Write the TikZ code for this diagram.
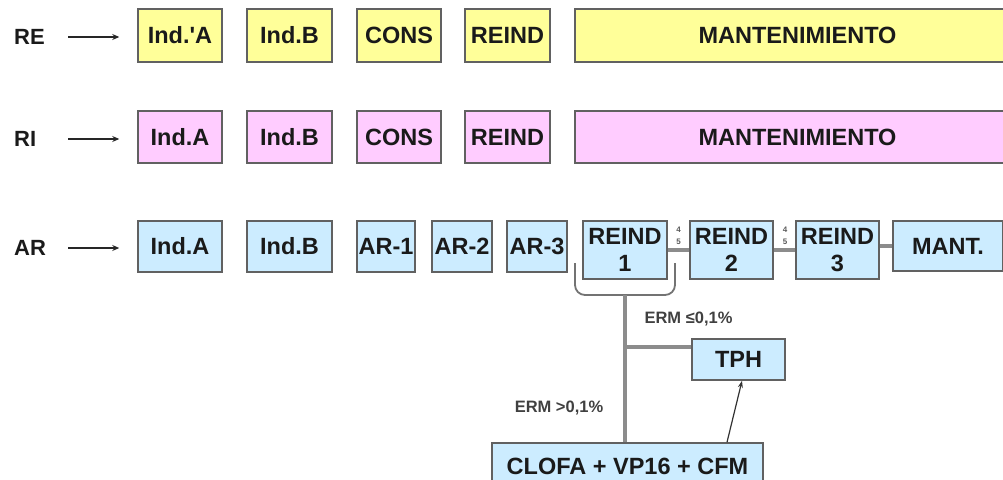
\documentclass[tikz,border=0pt]{standalone}
\usepackage{fontspec}
\setmainfont{Liberation Sans}
\newfontfamily\apfont{Liberation Sans}
\usetikzlibrary{arrows.meta}
\definecolor{yfill}{HTML}{FFFF99}
\definecolor{pfill}{HTML}{FFCCFF}
\definecolor{bfill}{HTML}{CCECFF}
\definecolor{txt}{HTML}{1A1A1A}
\definecolor{lgray}{HTML}{8C8C8C}
\tikzset{
  box/.style={draw=black!62, line width=1.5pt, inner sep=0pt, align=center,
    font=\fontsize{23.5}{27}\selectfont\bfseries, text=txt},
  ybox/.style={box, fill=yfill},
  pbox/.style={box, fill=pfill},
  bbox/.style={box, fill=bfill},
  rowlbl/.style={anchor=west, inner sep=0pt, font=\fontsize{22}{24}\selectfont\bfseries, text=txt},
  inarrow/.style={-{Stealth[length=7pt,width=6pt]}, line width=1.2pt, black!85, shorten >=18pt},
  gline/.style={lgray, line width=3.2pt},
  bline/.style={black!55, line width=1.8pt},
  erm/.style={inner sep=0pt, font=\fontsize{16.5}{18}\selectfont\bfseries, text=black!75},
  tiny/.style={inner sep=0pt, font=\fontsize{8}{9}\selectfont\bfseries, text=black!65},
}
\begin{document}
\begin{tikzpicture}[x=1pt,y=-1pt]
\useasboundingbox (0,0) rectangle (1003,479);
\clip (0,0) rectangle (1003,479);
% row labels
\node[rowlbl] (re) at (14,37) {RE};
\node[rowlbl] (ri) at (14,139) {RI};
\node[rowlbl] (ar) at (14,248) {AR};
\coordinate (reS) at (68,37);
\coordinate (riS) at (68,139);
\coordinate (arS) at (68,248);
% RE row
\node[ybox, minimum width=84pt, minimum height=53pt] (reA) at (180,35.5) {Ind.{\apfont\bfseries '}A};
\node[ybox, minimum width=85pt, minimum height=53pt] (reB) at (289.5,35.5) {Ind.B};
\node[ybox, minimum width=84pt, minimum height=53pt] (reC) at (399,35.5) {CONS};
\node[ybox, minimum width=85pt, minimum height=53pt] (reR) at (507.5,35.5) {REIND};
\node[ybox, minimum width=445pt, minimum height=53pt] (reM) at (797.5,35.5) {MANTENIMIENTO};
% RI row
\node[pbox, minimum width=84pt, minimum height=52pt] (riA) at (180,137) {Ind.A};
\node[pbox, minimum width=85pt, minimum height=52pt] (riB) at (289.5,137) {Ind.B};
\node[pbox, minimum width=84pt, minimum height=52pt] (riC) at (399,137) {CONS};
\node[pbox, minimum width=85pt, minimum height=52pt] (riR) at (507.5,137) {REIND};
\node[pbox, minimum width=445pt, minimum height=52pt] (riM) at (797.5,137) {MANTENIMIENTO};
% AR row
\node[bbox, minimum width=84pt, minimum height=51pt] (arA) at (180,246.5) {Ind.A};
\node[bbox, minimum width=85pt, minimum height=51pt] (arB) at (289.5,246.5) {Ind.B};
\node[bbox, minimum width=58pt, minimum height=51pt] (ar1) at (386,246.5) {AR-1};
\node[bbox, minimum width=60pt, minimum height=51pt] (ar2) at (462,246.5) {AR-2};
\node[bbox, minimum width=60pt, minimum height=51pt] (ar3) at (537,246.5) {AR-3};
\node[bbox, minimum width=84pt, minimum height=58pt] (r1) at (625,250) {REIND\\1};
\node[bbox, minimum width=83pt, minimum height=58pt] (r2) at (731.5,250) {REIND\\2};
\node[bbox, minimum width=83pt, minimum height=58pt] (r3) at (837.5,250) {REIND\\3};
\node[bbox, minimum width=110pt, minimum height=50pt] (mant) at (948,246) {MANT.};
\node[bbox, minimum width=93pt, minimum height=41pt] (tph) at (738.5,359.5) {TPH};
\node[bbox, minimum width=271pt, minimum height=47pt] (clofa) at (627.5,466.5) {CLOFA + VP16 + CFM};
% small 4/5 labels
\node[tiny] (f1a) at (678.5,230) {4};
\node[tiny] (f1b) at (678.5,242) {5};
\node[tiny] (f2a) at (785,230) {4};
\node[tiny] (f2b) at (785,242) {5};
% input arrows
\draw[inarrow] (reS) -- (reS -| reA.west);
\draw[inarrow] (riS) -- (riS -| riA.west);
\draw[inarrow] (arS) -- (arS -| arA.west);
% REIND chain
\draw[gline] (r1.east) -- (r2.west);
\draw[gline] (r2.east) -- (r3.west);
\draw[gline] (r3.east |- mant.west) -- (mant.west);
% bracket under REIND 1
\coordinate (bl) at (575,263);
\coordinate (br) at (675,263);
\coordinate (bm) at (625,295);
\draw[bline, rounded corners=10pt] (bl) -- (bl |- bm) -- (br |- bm) -- (br);
% stem and branch
\coordinate (branch) at (625,347);
\draw[gline] (bm) -- (bm |- clofa.north);
\draw[gline] (branch) -- (branch -| tph.west);
\draw[-{Stealth[length=7pt,width=5pt]}, line width=1.2pt, black!80] ([xshift=99.5pt]clofa.north) -- ([xshift=3.5pt]tph.south);
% ERM labels
\node[erm] (erm1) at (688.5,319) {ERM ≤0,1\%};
\node[erm] (erm2) at (559,408) {ERM >0,1\%};
\end{tikzpicture}
\end{document}
